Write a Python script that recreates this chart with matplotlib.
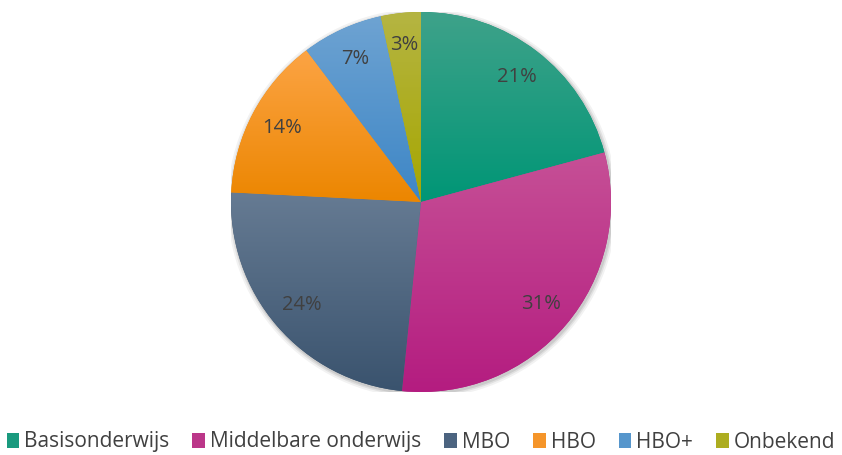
"""Education level pie chart with Excel-style gradient slices."""

import matplotlib.pyplot as plt
import numpy as np
from matplotlib.colors import LinearSegmentedColormap
from matplotlib.patches import Circle, Patch

LABELS = ['Basisonderwijs', 'Middelbare onderwijs', 'MBO', 'HBO', 'HBO+', 'Onbekend']
SHARES = [20.8, 30.8, 24.2, 13.9, 6.9, 3.4]
PCT_TEXT = ['21%', '31%', '24%', '14%', '7%', '3%']

# (top, bottom) colours of each slice gradient
GRADIENTS = [
    ('#3fa28a', '#009676'),
    ('#c65096', '#b41c80'),
    ('#667b93', '#3a536e'),
    ('#fca445', '#ec8600'),
    ('#6ea3d2', '#3d86c6'),
    ('#b5b543', '#a6a600'),
]
LEGEND_COLORS = ['#1a9a7e', '#bb3689', '#4c6480', '#f5952a', '#5696cc', '#adad20']

plt.rcParams['font.family'] = ['Open Sans', 'DejaVu Sans']

fig = plt.figure(figsize=(8.42, 4.55), dpi=100)
ax = fig.add_axes([231 / 842, 63 / 455, 380 / 842, 380 / 455])

# soft shadow round the pie
for grow, alpha in [(1.025, 0.05), (1.015, 0.07), (1.007, 0.09)]:
    ax.add_patch(Circle((0.006, -0.008), grow, color='#000000', alpha=alpha,
                        lw=0, zorder=0))

wedges, _ = ax.pie(SHARES, startangle=90, counterclock=False, radius=1,
                   wedgeprops=dict(linewidth=0))

for wedge, (top, bottom), text in zip(wedges, GRADIENTS, PCT_TEXT):
    wedge.set_facecolor(bottom)
    wedge.set_zorder(1)
    box = wedge.get_path().get_extents()
    cmap = LinearSegmentedColormap.from_list('g', [top, bottom])
    grad = np.linspace(0, 1, 256).reshape(-1, 1)
    img = ax.imshow(grad, cmap=cmap, aspect='auto', origin='upper',
                    extent=(box.x0, box.x1, box.y0, box.y1), zorder=2)
    img.set_clip_path(wedge)
    mid = np.deg2rad((wedge.theta1 + wedge.theta2) / 2)
    ax.text(0.83 * np.cos(mid), 0.83 * np.sin(mid), text, ha='center',
            va='center', fontsize=14.5, color='#404040', zorder=3)

ax.set_xlim(-1, 1)
ax.set_ylim(-1, 1)
ax.set_aspect('equal')
ax.axis('off')

handles = [Patch(facecolor=c, edgecolor='none') for c in LEGEND_COLORS]
fig.legend(handles, LABELS, loc='center', bbox_to_anchor=(0.5, 1 - 442 / 455),
           ncol=6, frameon=False, fontsize=15, handlelength=0.6,
           handleheight=0.75, handletextpad=0.25, columnspacing=1.1,
           labelcolor='#404040', borderpad=0, borderaxespad=0)

fig.savefig('out.png', dpi=100)
